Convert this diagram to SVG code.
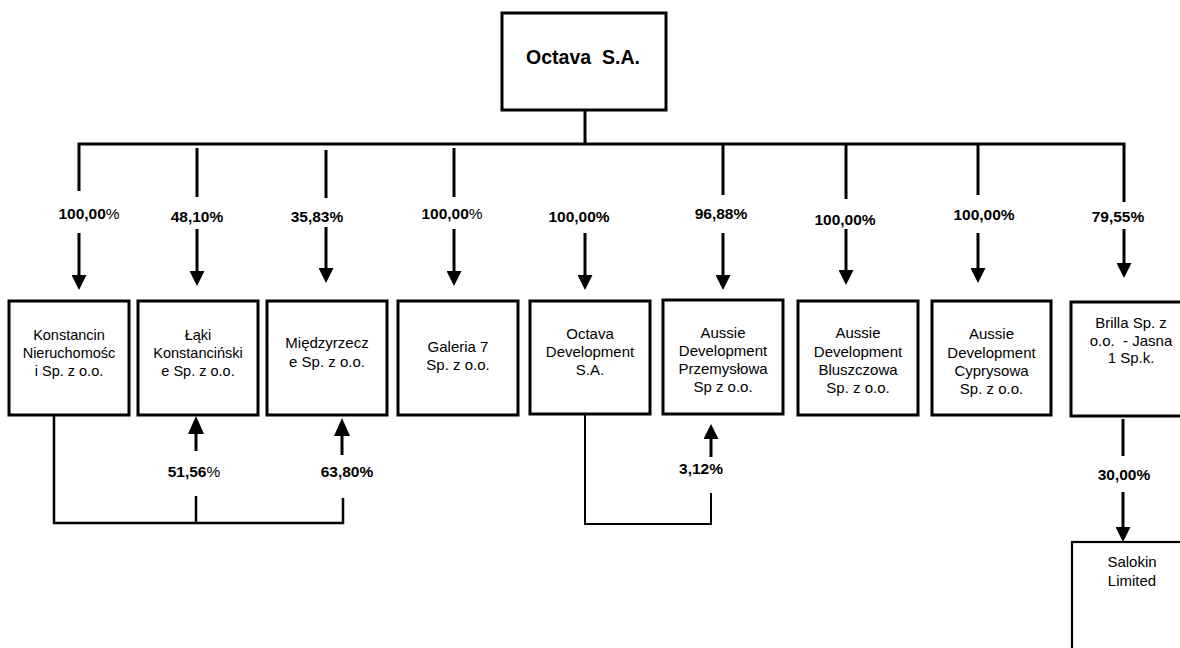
<svg xmlns="http://www.w3.org/2000/svg" width="1180" height="648" viewBox="0 0 1180 648">
<style>
.box{fill:#fff;stroke:#000;stroke-width:3}
.thin{fill:#fff;stroke:#000;stroke-width:2.2}
.t{font-family:"Liberation Sans",Arial,sans-serif;font-size:15px;fill:#000;text-anchor:middle}
.lbl{font-family:"Liberation Sans",Arial,sans-serif;font-size:15.5px;font-weight:bold;fill:#000;text-anchor:middle}
.title{font-family:"Liberation Sans",Arial,sans-serif;font-size:19.5px;font-weight:bold;fill:#000;text-anchor:middle}
.n{font-weight:normal}
.c{fill:none;stroke:#000;stroke-width:3}
.c2{fill:none;stroke:#000;stroke-width:2.5}
.c3{fill:none;stroke:#000;stroke-width:2}
</style>
<defs>
<marker id="ah" viewBox="0 0 15 15" refX="0" refY="7.5" markerWidth="15" markerHeight="15" markerUnits="userSpaceOnUse" orient="auto"><path d="M0,0 L15,7.5 L0,15 z" fill="#000"/></marker>
<marker id="ahu" viewBox="0 0 18 16" refX="0" refY="8" markerWidth="18" markerHeight="16" markerUnits="userSpaceOnUse" orient="auto"><path d="M0,0 L18,8 L0,16 z" fill="#000"/></marker>
</defs>
<rect width="1180" height="648" fill="#fff"/>

<g id="connectors">
<line class="c" x1="585" y1="110" x2="585" y2="144"/>
<polyline class="c" points="79,191 79,144 1124,144 1124,202"/>
<line class="c" x1="197" y1="148" x2="197" y2="197"/>
<line class="c" x1="326" y1="150" x2="326" y2="198"/>
<line class="c" x1="454" y1="148" x2="454" y2="197"/>
<line class="c" x1="723" y1="144" x2="723" y2="195"/>
<line class="c" x1="846" y1="144" x2="846" y2="199"/>
<line class="c" x1="978" y1="144" x2="978" y2="195"/>

<line class="c" x1="79" y1="233" x2="79" y2="275" marker-end="url(#ah)"/>
<line class="c" x1="197" y1="229" x2="197" y2="271" marker-end="url(#ah)"/>
<line class="c" x1="326" y1="227" x2="326" y2="268" marker-end="url(#ah)"/>
<line class="c" x1="454" y1="229" x2="454" y2="271" marker-end="url(#ah)"/>
<line class="c" x1="585" y1="233" x2="585" y2="275" marker-end="url(#ah)"/>
<line class="c" x1="723" y1="233" x2="723" y2="275" marker-end="url(#ah)"/>
<line class="c" x1="846" y1="229" x2="846" y2="270" marker-end="url(#ah)"/>
<line class="c" x1="978" y1="233" x2="978" y2="268" marker-end="url(#ah)"/>
<line class="c" x1="1124" y1="229" x2="1124" y2="263" marker-end="url(#ah)"/>

<polyline class="c2" points="54,415 54,523 343,523 343,498"/>
<line class="c2" x1="196" y1="523" x2="196" y2="496"/>
<line class="c" x1="196" y1="451" x2="196" y2="434" marker-end="url(#ahu)"/>
<line class="c" x1="342" y1="455" x2="342" y2="436" marker-end="url(#ahu)"/>

<polyline class="c3" points="585,414 585,524 711,524 711,493"/>
<line class="c" x1="711" y1="457" x2="711" y2="439" marker-end="url(#ah)"/>

<line class="c" x1="1123" y1="419" x2="1123" y2="456"/>
<line class="c" x1="1123" y1="492" x2="1123" y2="527" marker-end="url(#ah)"/>

<text class="lbl" x="89" y="219">100,00<tspan class="n">%</tspan></text>
<text class="lbl" x="197" y="222">48,10%</text>
<text class="lbl" x="317" y="222">35,83%</text>
<text class="lbl" x="452" y="219">100,00<tspan class="n">%</tspan></text>
<text class="lbl" x="579" y="222">100,00%</text>
<text class="lbl" x="721" y="219">96,88%</text>
<text class="lbl" x="845" y="225">100,00%</text>
<text class="lbl" x="984" y="220">100,00%</text>
<text class="lbl" x="1118" y="222">79,55%</text>
<text class="lbl" x="194" y="477">51,56<tspan class="n">%</tspan></text>
<text class="lbl" x="347" y="477">63,80%</text>
<text class="lbl" x="701" y="474">3,12%</text>
<text class="lbl" x="1124" y="480">30,00%</text>
</g>

<g id="octava-sa">
<rect class="box" x="502" y="13" width="164" height="97"/>
<text class="title" x="583" y="64" xml:space="preserve">Octava  S.A.</text>
</g>

<g id="konstancin">
<rect class="box" x="9" y="301" width="120" height="114"/>
<text class="t" x="69" y="340" style="font-size:14.5px">Konstancin</text>
<text class="t" x="69" y="358" style="font-size:14.5px">Nieruchomośc</text>
<text class="t" x="69" y="376" style="font-size:14.5px">i Sp. z o.o.</text>
</g>

<g id="laki">
<rect class="box" x="138" y="301" width="120" height="114"/>
<text class="t" x="198" y="340" style="font-size:14.5px">Łąki</text>
<text class="t" x="198" y="358" style="font-size:14.5px">Konstanciński</text>
<text class="t" x="198" y="376" style="font-size:14.5px">e Sp. z o.o.</text>
</g>

<g id="miedzyrzecze">
<rect class="box" x="267" y="301" width="120" height="114"/>
<text class="t" x="327" y="348">Międzyrzecz</text>
<text class="t" x="327" y="367">e Sp. z o.o.</text>
</g>

<g id="galeria7">
<rect class="box" x="398" y="301" width="120" height="114"/>
<text class="t" x="458" y="352">Galeria 7</text>
<text class="t" x="458" y="370">Sp. z o.o.</text>
</g>

<g id="octava-development">
<rect class="box" x="530" y="301" width="120" height="113"/>
<text class="t" x="590" y="339">Octava</text>
<text class="t" x="590" y="357">Development</text>
<text class="t" x="590" y="375">S.A.</text>
</g>

<g id="aussie-przemyslowa">
<rect class="box" x="663" y="300" width="120" height="114"/>
<text class="t" x="723" y="338">Aussie</text>
<text class="t" x="723" y="356">Development</text>
<text class="t" x="723" y="374">Przemysłowa</text>
<text class="t" x="723" y="392">Sp z o.o.</text>
</g>

<g id="aussie-bluszczowa">
<rect class="box" x="798" y="301" width="120" height="114"/>
<text class="t" x="858" y="338">Aussie</text>
<text class="t" x="858" y="357">Development</text>
<text class="t" x="858" y="375">Bluszczowa</text>
<text class="t" x="858" y="393">Sp. z o.o.</text>
</g>

<g id="aussie-cyprysowa">
<rect class="box" x="932" y="301" width="119" height="114"/>
<text class="t" x="991.5" y="339">Aussie</text>
<text class="t" x="991.5" y="358">Development</text>
<text class="t" x="991.5" y="376">Cyprysowa</text>
<text class="t" x="991.5" y="394">Sp. z o.o.</text>
</g>

<g id="brilla">
<rect class="box" x="1071" y="302" width="120" height="114"/>
<text class="t" x="1131" y="328">Brilla Sp. z</text>
<text class="t" x="1131" y="346" xml:space="preserve">o.o.  - Jasna</text>
<text class="t" x="1131" y="363">1 Sp.k.</text>
</g>

<g id="salokin">
<rect class="thin" x="1072" y="542" width="120" height="120"/>
<text class="t" x="1132" y="567">Salokin</text>
<text class="t" x="1132" y="586">Limited</text>
</g>
</svg>
